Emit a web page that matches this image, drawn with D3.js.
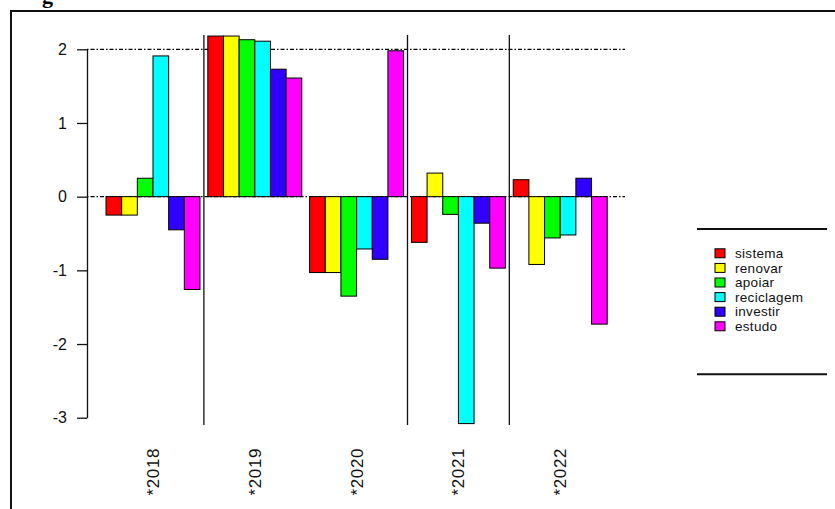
<!DOCTYPE html>
<html><head><meta charset="utf-8">
<script src="https://cdn.jsdelivr.net/npm/d3@7"></script>
<style>body{margin:0;background:#fff}svg{display:block}</style>
</head><body>
<script>
const years = ["*2018", "*2019", "*2020", "*2021", "*2022"];
const seriesNames = ["sistema", "renovar", "apoiar", "reciclagem", "investir", "estudo"];
const sistema    = [-0.25, 2.18, -1.03, -0.62, 0.23];
const renovar    = [-0.25, 2.18, -1.03, 0.32, -0.92];
const apoiar     = [0.25, 2.13, -1.35, -0.24, -0.56];
const reciclagem = [1.91, 2.11, -0.71, -3.08, -0.52];
const investir   = [-0.45, 1.73, -0.85, -0.36, 0.25];
const estudo     = [-1.26, 1.61, 1.98, -0.97, -1.73];
const colors = ["#ff0000", "#ffff00", "#00ff00", "#00ffff", "#3000ff", "#ff00ff"];
const yTicks = [2, 1, 0, -1, -2, -3];
const refLines = [0, 2];
const dividersAfter = ["*2018", "*2020", "*2021"];

const seriesValues = [sistema, renovar, apoiar, reciclagem, investir, estudo];
const W = 835, H = 509;
const svg = d3.select("body").append("svg").attr("width", W).attr("height", H)
  .style("font-family", "'Liberation Sans', Arial, sans-serif");

// outer document frame (extends off image)
svg.append("path").attr("d", "M11,520 L11,11 L840,11").attr("fill", "none")
  .attr("stroke", "#111").attr("stroke-width", 2);
// caption fragment (cut off at the top, as in the reference)
svg.append("text").attr("x", 42).attr("y", 3).attr("font-family", "'Liberation Serif', serif")
  .attr("font-weight", "bold").attr("font-size", 22).text("g");

const y = d3.scaleLinear().domain([-3, 2]).range([417.7, 49.3]);
const x0 = d3.scaleBand().domain(years).range([106, 607.2]).paddingInner(0.5 / 6.5).paddingOuter(0);
const x1 = d3.scaleBand().domain(seriesNames).range([0, x0.bandwidth()]).padding(0);
const color = d3.scaleOrdinal().domain(seriesNames).range(colors);

const allVals = seriesValues.flat();
const plotTop = y(d3.max(allVals)), plotBot = y(d3.min(allVals)) + 1.5;
const plotLeft = 87, plotRight = 625;

// reference dotted lines
svg.selectAll("line.ref").data(refLines).join("line").attr("class", "ref")
  .attr("x1", plotLeft).attr("x2", plotRight).attr("y1", d => y(d)).attr("y2", d => y(d))
  .attr("stroke", "#000").attr("stroke-width", 1.3).attr("stroke-dasharray", "1.5,2,4,2");

// bars
const groups = svg.selectAll("g.grp").data(years).join("g").attr("class", "grp")
  .attr("transform", d => `translate(${x0(d)},0)`);
groups.selectAll("rect").data((yr, i) => seriesNames.map((s, j) => ({ s, v: seriesValues[j][i] })))
  .join("rect")
  .attr("x", d => x1(d.s)).attr("width", x1.bandwidth())
  .attr("y", d => y(Math.max(0, d.v))).attr("height", d => Math.abs(y(d.v) - y(0)))
  .attr("fill", d => color(d.s)).attr("stroke", "#000").attr("stroke-width", 1);

// dividers
const step = x0.step(), gap = step - x0.bandwidth();
svg.selectAll("line.div").data(dividersAfter).join("line").attr("class", "div")
  .attr("x1", d => x0(d) + x0.bandwidth() + gap / 2).attr("x2", d => x0(d) + x0.bandwidth() + gap / 2)
  .attr("y1", plotTop - 1).attr("y2", plotBot)
  .attr("stroke", "#111").attr("stroke-width", 1.3);

// y axis
const yAxis = svg.append("g").attr("transform", `translate(${plotLeft},0)`)
  .call(d3.axisLeft(y).tickValues(yTicks).tickSize(10).tickSizeOuter(0).tickPadding(10).tickFormat(d3.format("d")));
yAxis.select(".domain").attr("stroke", "#111").attr("stroke-width", 1.3);
yAxis.selectAll(".tick line").attr("stroke", "#111").attr("stroke-width", 1.3);
yAxis.selectAll(".tick text").attr("font-size", 16).attr("fill", "#111")
  .text(d => d < 0 ? "-" + Math.abs(d) : d).attr("font-family", "'Liberation Sans', Arial, sans-serif");

// x labels
svg.selectAll("text.xl").data(years).join("text").attr("class", "xl")
  .attr("transform", d => `translate(${x0(d) + x0.bandwidth() / 2},448) rotate(-90)`)
  .attr("text-anchor", "end").attr("dy", "0.35em").attr("font-size", 17).attr("fill", "#111")
  .attr("letter-spacing", 0.6).text(d => d);

// legend
const lg = svg.append("g");
lg.append("line").attr("x1", 697).attr("x2", 827).attr("y1", 229).attr("y2", 229).attr("stroke", "#111").attr("stroke-width", 2);
lg.append("line").attr("x1", 697).attr("x2", 827).attr("y1", 374.3).attr("y2", 374.3).attr("stroke", "#111").attr("stroke-width", 2);
const ly = d3.scalePoint().domain(seriesNames).range([253.3, 326.3]);
const items = lg.selectAll("g.it").data(seriesNames).join("g").attr("class", "it")
  .attr("transform", d => `translate(0,${ly(d)})`);
items.append("rect").attr("x", 715).attr("y", -4.5).attr("width", 10).attr("height", 9)
  .attr("fill", d => color(d)).attr("stroke", "#000").attr("stroke-width", 1);
items.append("text").attr("x", 735).attr("dy", "0.35em").attr("font-size", 13.5).attr("fill", "#111")
  .attr("letter-spacing", 0.3).text(d => d);
</script>
</body></html>
